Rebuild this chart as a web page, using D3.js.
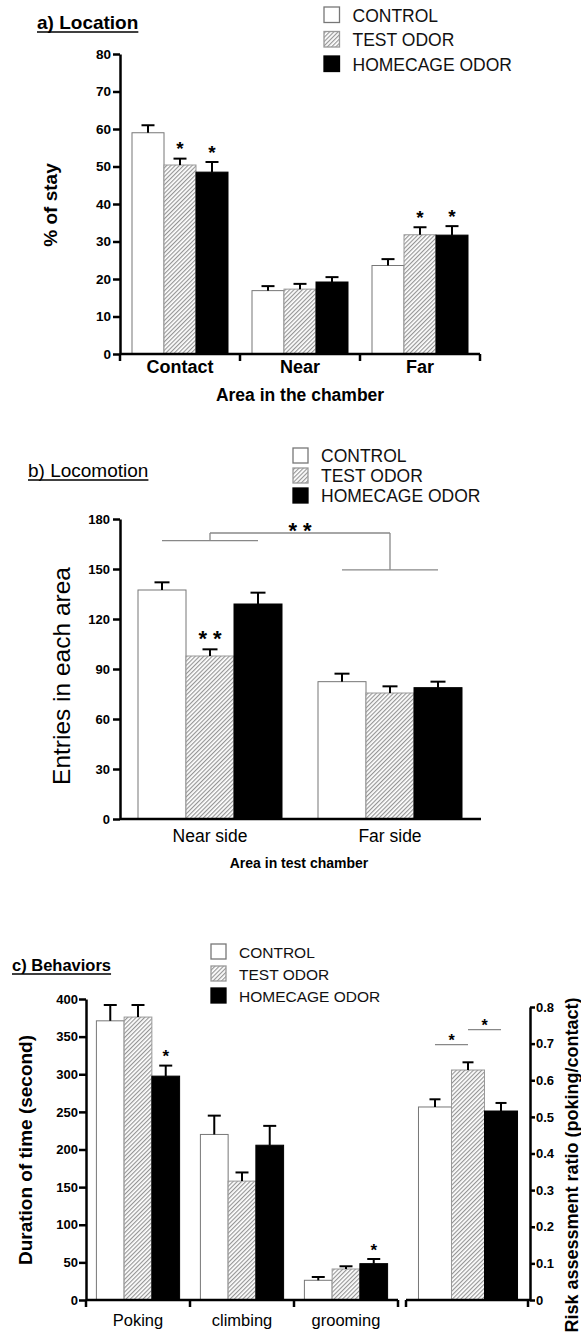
<!DOCTYPE html>
<html>
<head>
<script src="https://d3js.org/d3.v7.min.js"></script>
<style>
  body { margin: 0; background: #fff; }
  svg { display: block; font-family: "Liberation Sans", Arial, sans-serif; }
  .axis path, .axis line { stroke: #000; stroke-width: 2.5; }
  .axis text { font-weight: bold; fill: #000; font-family: "Liberation Sans", Arial, sans-serif; }
</style>
</head>
<body>
<svg id="chart" width="581" height="1332"></svg>
<script>
var groups = ["CONTROL", "TEST ODOR", "HOMECAGE ODOR"];

// a) Location
var locAreas = ["Contact", "Near", "Far"];
var locMean = [[59.0, 50.4, 48.5], [16.9, 17.3, 19.2], [23.6, 31.8, 31.7]];
var locSem = [[2.0, 1.7, 2.7], [1.2, 1.4, 1.3], [1.7, 2.0, 2.4]];
var locStars = [["", "*", "*"], ["", "", ""], ["", "*", "*"]];
var locTicks = [0, 10, 20, 30, 40, 50, 60, 70, 80];

// b) Locomotion
var sides = ["Near side", "Far side"];
var sideMean = [[137.4, 97.8, 129.0], [82.4, 75.6, 78.8]];
var sideSem = [[4.6, 4.0, 6.8], [4.8, 4.0, 3.6]];
var sideStars = [["", "* *", ""], ["", "", ""]];
var sideTicks = [0, 30, 60, 90, 120, 150, 180];
// bracket heights (entries): near side, far side, joining line
var sideBracket = [167, 149.5, 171.6];

// c) Behaviors
var behaviors = ["Poking", "climbing", "grooming"];
var behMean = [[371, 376, 297.5], [220, 158, 205.7], [26.2, 41.2, 48.3]];
var behSem = [[21, 16, 14], [25, 11.5, 25.7], [4.4, 3.6, 6.2]];
var behStars = [["", "", "*"], ["", "", ""], ["", "", "*"]];
var behTicks = [0, 50, 100, 150, 200, 250, 300, 350, 400];

var ratioMean = [0.527, 0.628, 0.516];
var ratioSem = [0.021, 0.021, 0.022];
var ratioTicks = [0, 0.1, 0.2, 0.3, 0.4, 0.5, 0.6, 0.7, 0.8];
// comparison lines: [from group, to group, height]
var ratioSig = [[0, 1, 0.697], [1, 2, 0.738]];

var svg = d3.select("#chart");

var pat = svg.append("defs").append("pattern")
  .attr("id", "hatch")
  .attr("patternUnits", "userSpaceOnUse")
  .attr("width", 3).attr("height", 3)
  .attr("patternTransform", "rotate(45)");
pat.append("rect").attr("width", 3).attr("height", 3).attr("fill", "#fff");
pat.append("line").attr("x1", 0.6).attr("y1", 0).attr("x2", 0.6).attr("y2", 3)
  .attr("stroke", "#909090").attr("stroke-width", 1.1);

var fills = ["#fff", "url(#hatch)", "#000"];
var strokes = ["#777", "#999", "#000"];

function legend(x, y, size, gap, fs) {
  var g = svg.append("g").attr("transform", "translate(" + x + "," + y + ")");
  groups.forEach(function(name, i) {
    g.append("rect")
      .attr("x", 0).attr("y", i * gap)
      .attr("width", size).attr("height", size)
      .attr("fill", fills[i]).attr("stroke", strokes[i]).attr("stroke-width", 1.3);
    g.append("text")
      .attr("x", size + 13).attr("y", i * gap + size - 1)
      .attr("font-size", fs).attr("fill", "#111")
      .text(name);
  });
}

function title(x, y, txt, fs, bold) {
  var t = svg.append("text")
    .attr("x", x).attr("y", y)
    .attr("font-size", fs)
    .attr("font-weight", bold ? "bold" : "normal")
    .text(txt);
  var w = t.node().getComputedTextLength();
  svg.append("line")
    .attr("x1", x).attr("x2", x + w)
    .attr("y1", y + 3).attr("y2", y + 3)
    .attr("stroke", "#000").attr("stroke-width", 1.5);
}

function yLabel(x, y, txt, fs, bold) {
  svg.append("text")
    .attr("transform", "translate(" + x + "," + y + ") rotate(-90)")
    .attr("text-anchor", "middle")
    .attr("font-size", fs)
    .attr("font-weight", bold ? "bold" : "normal")
    .text(txt);
}

function yAxis(y, x0, ticks, fs, size, pad, right, fmt) {
  var ax = (right ? d3.axisRight(y) : d3.axisLeft(y))
    .tickValues(ticks).tickSize(size).tickSizeOuter(0).tickPadding(pad);
  if (fmt) ax.tickFormat(fmt);
  var g = svg.append("g").attr("class", "axis")
    .attr("transform", "translate(" + x0 + ",0)")
    .call(ax);
  g.selectAll("text").attr("font-size", fs);
}

// x axis line with ticks on the group boundaries
function xAxis(x, y0, x1, x2, tickLen) {
  svg.append("line")
    .attr("x1", x1).attr("x2", x2).attr("y1", y0).attr("y2", y0)
    .attr("stroke", "#000").attr("stroke-width", 2.5);
  if (!tickLen) return;
  var edges = x.domain().map(function(c) { return x(c) - x.step() * x.paddingInner() / 2; });
  edges.push(x.range()[1]);
  svg.selectAll(null).data(edges).enter().append("line")
    .attr("x1", function(d) { return d; }).attr("x2", function(d) { return d; })
    .attr("y1", y0).attr("y2", y0 + tickLen)
    .attr("stroke", "#000").attr("stroke-width", 2.5);
}

function catLabels(x, y0, fs, bold) {
  svg.selectAll(null).data(x.domain()).enter().append("text")
    .attr("x", function(d) { return x(d) + x.bandwidth() / 2; })
    .attr("y", y0)
    .attr("text-anchor", "middle")
    .attr("font-size", fs)
    .attr("font-weight", bold ? "bold" : "normal")
    .text(function(d) { return d; });
}

function bars(cats, mean, sem, stars, x, y, cap, starFs, starOff) {
  var sub = d3.scaleBand().domain(d3.range(groups.length)).range([0, x.bandwidth()]);
  cats.forEach(function(c, i) {
    var g = svg.append("g").attr("transform", "translate(" + x(c) + ",0)");
    g.selectAll("rect").data(mean[i]).enter().append("rect")
      .attr("x", function(d, j) { return sub(j); })
      .attr("y", function(d) { return y(d); })
      .attr("width", sub.bandwidth())
      .attr("height", function(d) { return y(0) - y(d); })
      .attr("fill", function(d, j) { return fills[j]; })
      .attr("stroke", function(d, j) { return strokes[j]; })
      .attr("stroke-width", 1);
    mean[i].forEach(function(m, j) {
      var cx = sub(j) + sub.bandwidth() / 2;
      var top = y(m + sem[i][j]);
      g.append("line").attr("x1", cx).attr("x2", cx).attr("y1", y(m)).attr("y2", top)
        .attr("stroke", "#000").attr("stroke-width", 2);
      g.append("line").attr("x1", cx - cap / 2).attr("x2", cx + cap / 2).attr("y1", top).attr("y2", top)
        .attr("stroke", "#000").attr("stroke-width", 2);
      if (stars && stars[i][j]) {
        g.append("text")
          .attr("x", cx).attr("y", top - starOff + 0.57 * starFs)
          .attr("text-anchor", "middle")
          .attr("font-size", starFs).attr("font-weight", "bold")
          .text(stars[i][j]);
      }
    });
  });
  return sub;
}

// ---------- a) Location ----------
title(37, 29, "a) Location", 19, true);
legend(324, 7, 15.5, 24.5, 17.5);

var xa = d3.scaleBand().domain(locAreas).range([120, 480]).paddingInner(0.2).paddingOuter(0.1);
var ya = d3.scaleLinear().domain([0, 80]).range([354, 54]);
bars(locAreas, locMean, locSem, locStars, xa, ya, 13, 19, 14);
xAxis(xa, 354, 120, 480, 7);
yAxis(ya, 120, locTicks, 13.5, 7, 2, false);
catLabels(xa, 373, 18, true);
svg.append("text").attr("x", 300).attr("y", 401).attr("text-anchor", "middle")
  .attr("font-size", 17.5).attr("font-weight", "bold").text("Area in the chamber");
yLabel(57, 205, "% of stay", 19, true);

// ---------- b) Locomotion ----------
title(28, 477, "b) Locomotion", 19, false);
legend(293, 448, 15, 20, 17.5);

var xb = d3.scaleBand().domain(sides).range([120, 480]).paddingInner(0.2).paddingOuter(0.1);
var yb = d3.scaleLinear().domain([0, 180]).range([819, 519]);
var subB = bars(sides, sideMean, sideSem, sideStars, xb, yb, 15, 22, 16);
xAxis(xb, 819, 120, 481, 0);
yAxis(yb, 120, sideTicks, 13, 7, 3, false);
catLabels(xb, 842, 17.5, false);
svg.append("text").attr("x", 299).attr("y", 868).attr("text-anchor", "middle")
  .attr("font-size", 14).attr("font-weight", "bold").text("Area in test chamber");
yLabel(70, 676, "Entries in each area", 24.5, false);

// significance bracket between near side and far side
var bw = subB.bandwidth();
var brk = svg.append("g").attr("stroke", "#888").attr("stroke-width", 1.3);
sides.forEach(function(s, i) {
  var left = xb(s) + bw / 2, right = xb(s) + xb.bandwidth() - bw / 2;
  var mid = xb(s) + xb.bandwidth() / 2;
  brk.append("line").attr("x1", left).attr("x2", right)
    .attr("y1", yb(sideBracket[i])).attr("y2", yb(sideBracket[i]));
  brk.append("line").attr("x1", mid).attr("x2", mid)
    .attr("y1", yb(sideBracket[i])).attr("y2", yb(sideBracket[2]));
});
brk.append("line")
  .attr("x1", xb(sides[0]) + xb.bandwidth() / 2).attr("x2", xb(sides[1]) + xb.bandwidth() / 2)
  .attr("y1", yb(sideBracket[2])).attr("y2", yb(sideBracket[2]));
svg.append("text").attr("x", 300).attr("y", yb(sideBracket[2]) - 8 + 0.57 * 22)
  .attr("text-anchor", "middle").attr("font-size", 22).attr("font-weight", "bold").text("* *");

// ---------- c) Behaviors ----------
title(12, 971, "c) Behaviors", 16.5, true);
legend(211, 944, 15, 22, 15.5);

var xc = d3.scaleBand().domain(behaviors).range([86, 398]).paddingInner(0.2).paddingOuter(0.1);
var yc = d3.scaleLinear().domain([0, 400]).range([1300, 999]);
bars(behaviors, behMean, behSem, behStars, xc, yc, 13, 17, 13);
xAxis(xc, 1300, 86, 398, 7);
yAxis(yc, 86, behTicks, 13, 7, 1, false);
catLabels(xc, 1326, 16.5, false);
yLabel(32, 1150, "Duration of time (second)", 19, true);

// risk assessment ratio
var xr = d3.scaleBand().domain(["ratio"]).range([406, 530]).paddingInner(0).paddingOuter(0.126);
var yr = d3.scaleLinear().domain([0, 0.8]).range([1300, 1007]);
var subR = bars(["ratio"], [ratioMean], [ratioSem], null, xr, yr, 11, 16, 0);
svg.append("line").attr("x1", 406).attr("x2", 530).attr("y1", 1300).attr("y2", 1300)
  .attr("stroke", "#000").attr("stroke-width", 2.5);
[406, 528].forEach(function(t) {
  svg.append("line").attr("x1", t).attr("x2", t).attr("y1", 1300).attr("y2", 1307)
    .attr("stroke", "#000").attr("stroke-width", 2.5);
});
yAxis(yr, 530, ratioTicks, 13, 5, 1, true, function(d) { return d === 0 ? "0" : d.toFixed(1); });
ratioSig.forEach(function(s) {
  var a = xr("ratio") + subR(s[0]) + subR.bandwidth() / 2;
  var b = xr("ratio") + subR(s[1]) + subR.bandwidth() / 2;
  svg.append("line").attr("x1", a).attr("x2", b).attr("y1", yr(s[2])).attr("y2", yr(s[2]))
    .attr("stroke", "#888").attr("stroke-width", 1.3);
  svg.append("text").attr("x", (a + b) / 2).attr("y", yr(s[2]) - 8 + 0.57 * 16)
    .attr("text-anchor", "middle").attr("font-size", 16).attr("font-weight", "bold").text("*");
});
svg.append("text")
  .attr("transform", "translate(578,1165) rotate(-90)")
  .attr("text-anchor", "middle").attr("font-size", 18).attr("font-weight", "bold")
  .text("Risk assessment ratio (poking/contact)");
</script>
</body>
</html>
